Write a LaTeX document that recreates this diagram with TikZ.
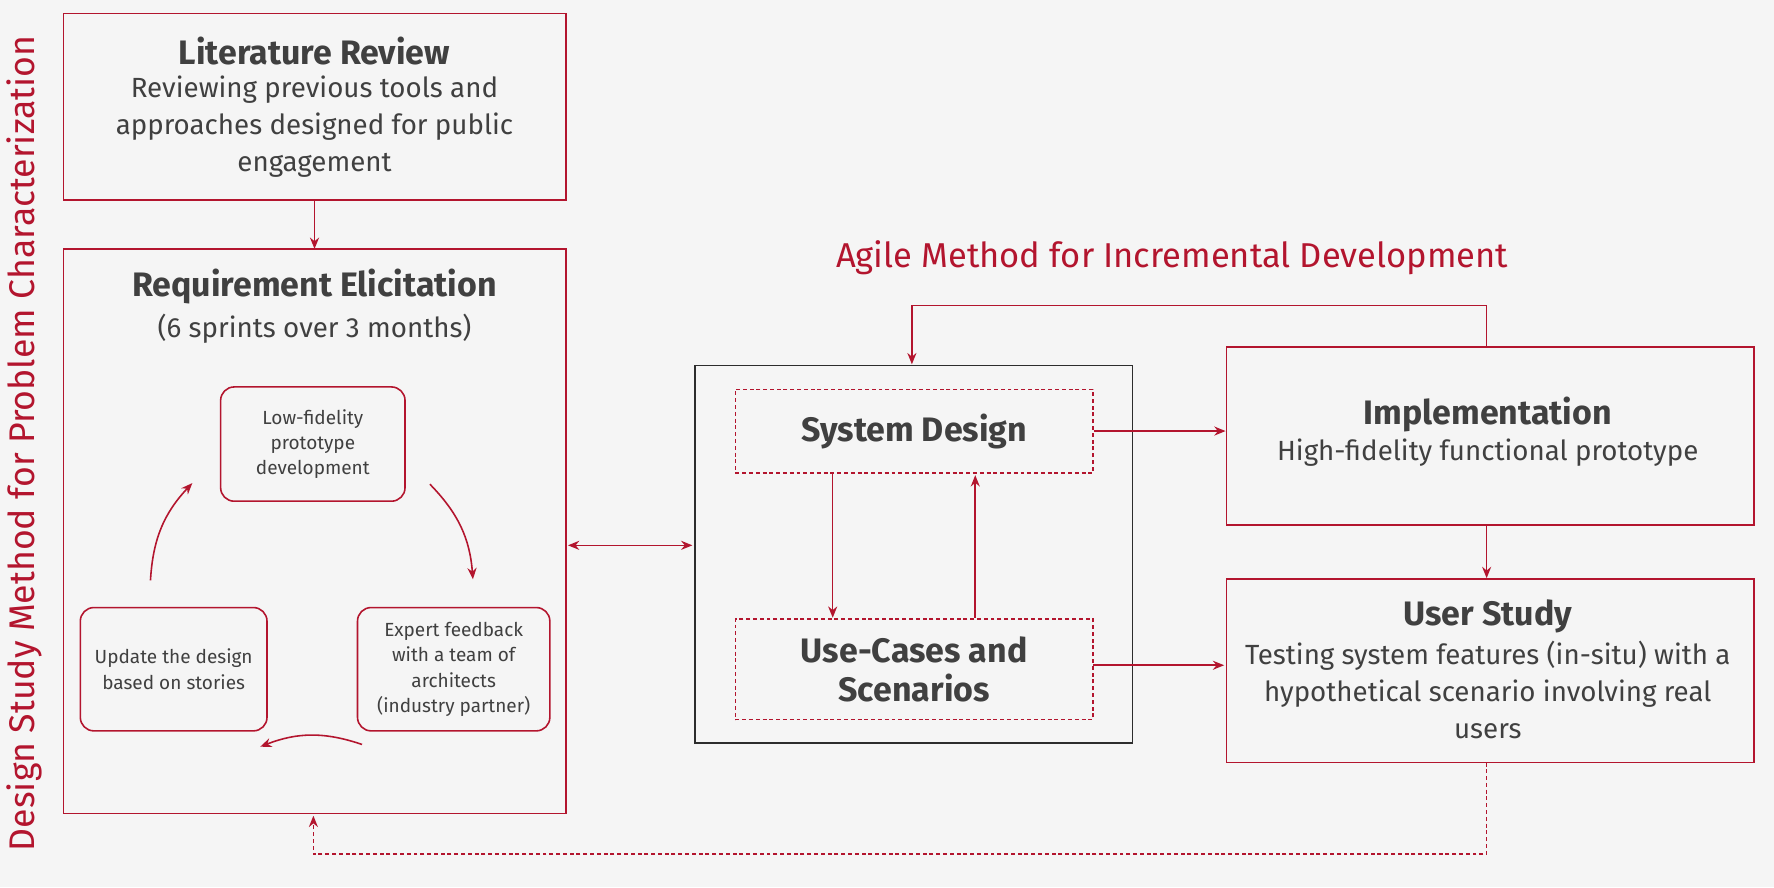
\documentclass[tikz,border=0pt]{standalone}
\usepackage{fontspec}
\setmainfont{Fira Sans}
\usetikzlibrary{arrows.meta}
\definecolor{myred}{HTML}{B3152E}
\definecolor{txt}{HTML}{404040}
\begin{document}
\begin{tikzpicture}[x=1pt,y=-1pt,
  box/.style={draw=myred,line width=1.5pt,fill=none},
  sbox/.style={draw=myred,line width=1.4pt,rounded corners=12pt},
  dbox/.style={draw=myred,line width=1.2pt,dash pattern=on 3.5pt off 2.5pt},
  arr/.style={draw=myred,line width=1.4pt,-{Stealth[length=10pt,width=8pt]}},
  t/.style={text=txt,align=center,font=\fontsize{24.5}{32.5}\selectfont},
  tt/.style={text=txt,align=center,font=\fontsize{30}{34}\selectfont\bfseries},
  st/.style={text=txt,align=center,font=\fontsize{16.8}{22.5}\selectfont}]
\fill[white!96!black] (0,0) rectangle (1568,784);
\useasboundingbox (0,0) rectangle (1568,784);
\node[rotate=90,text=myred,font=\fontsize{31.5}{34}\selectfont] (vt) at (22,392) {Design Study Method for Problem Characterization};
% literature
\draw[box] (56,12) rectangle (500,177);
\coordinate (litb) at (278,177);
\node[tt] (lt) at (278,45) {Literature Review};
\node[t] (ld) at (278,112) {Reviewing previous tools and\\approaches designed for public\\engagement};
% requirement
\draw[box] (56,220) rectangle (500,719);
\coordinate (reqt) at (278,220);
\coordinate (reqb) at (277,721);
\coordinate (reqr) at (502,482);
\draw[arr] (litb) -- (reqt);
\node[tt] (rt) at (278,253) {Requirement Elicitation};
\node[t] (rs) at (278,291) {(6 sprints over 3 months)};
\node[sbox,st,minimum width=163pt,minimum height=101pt] (low) at (276.5,392.5) {Low-fidelity\\prototype\\development};
\node[sbox,st,minimum width=170pt,minimum height=109pt] (exp) at (401,591.5) {Expert feedback\\with a team of\\architects\\(industry partner)};
\node[sbox,st,minimum width=165pt,minimum height=109pt] (upd) at (153.5,591.5) {Update the design\\based on stories};
\coordinate (c1a) at (380,428); \coordinate (c1b) at (418,512);
\coordinate (c2a) at (320,658); \coordinate (c2b) at (230,660);
\coordinate (c3a) at (133,513); \coordinate (c3b) at (170,427);
\draw[arr] (c1a) to[bend left=20] (c1b);
\draw[arr] (c2a) to[bend right=20] (c2b);
\draw[arr] (c3a) to[bend left=20] (c3b);
% agile
\node[text=myred,font=\fontsize{30.5}{32}\selectfont] (ag) at (1036,228) {Agile Method for Incremental Development};
\draw[draw=txt!70!black,line width=1.5pt] (614,323) rectangle (1001,657);
\coordinate (bl) at (612,482);
\draw[draw=myred,line width=1.4pt,{Stealth[length=10pt,width=8pt]}-{Stealth[length=10pt,width=8pt]}] (reqr) -- (bl);
\node[dbox,tt,minimum width=316pt,minimum height=74pt] (sd) at (808,381) {System Design};
\node[dbox,tt,minimum width=316pt,minimum height=89pt] (uc) at (808,591.5) {Use-Cases and\\Scenarios};
\draw[arr] (736,418) -- (736,546);
\draw[arr] (862,546) -- (862,420);
\node[box,minimum width=466pt,minimum height=157pt] (imp) at (1317,385.5) {};
\node[tt] at (1315,366) {Implementation};
\node[t] at (1315,400) {High-fidelity functional prototype};
\node[box,minimum width=466pt,minimum height=162pt] (us) at (1317,593) {};
\node[tt] at (1315,545) {User Study};
\node[t] at (1315,610) {Testing system features (in-situ) with a\\hypothetical scenario involving real\\users};
\draw[arr] (sd.east) -- (imp.west |- sd.east);
\draw[arr] (966,588) -- (1082,588);
\draw[arr] (1314,464) -- (1314,511);
\draw[arr] (1314,307) -- (1314,270) -- (806,270) -- (806,322);
\draw[arr,dash pattern=on 3.5pt off 2.5pt] (1314,674) -- (1314,755) -- (277,755) -- (reqb);
\end{tikzpicture}
\end{document}
